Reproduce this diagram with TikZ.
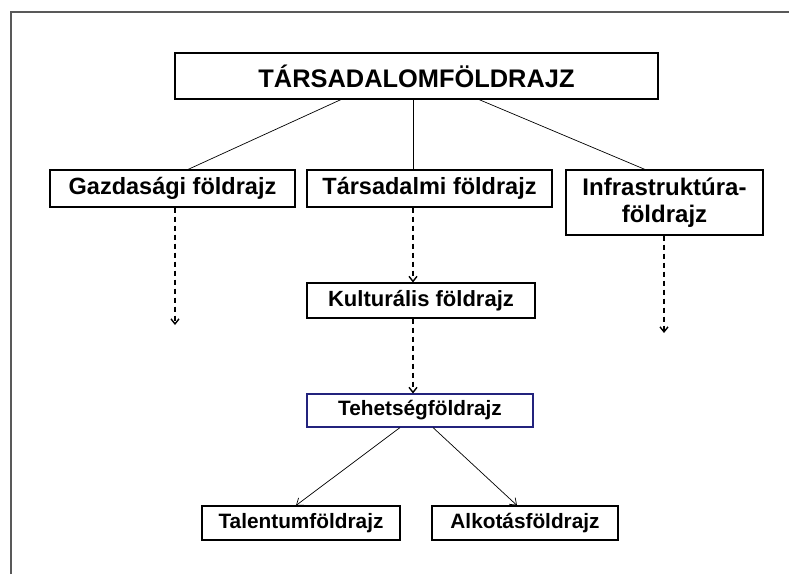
\documentclass[tikz,border=0pt]{standalone}
\usepackage{fontspec}
\setmainfont{Liberation Sans}
\usetikzlibrary{arrows.meta}
\definecolor{tehblue}{RGB}{35,35,125}

\begin{document}
\begin{tikzpicture}[
        x=1pt, y=-1pt,
        every node/.style={draw, rectangle, line width=1.1pt, inner sep=0pt, text centered},
        fs/.style={font=\bfseries\fontsize{#1}{27}\selectfont},
        ln/.style={-, line width=0.7pt},
        dar/.style={-{Straight Barb[length=5pt,width=8pt]}, line width=1.4pt, dash pattern=on 5pt off 4pt},
        sar/.style={-{Straight Barb[length=6pt,width=9pt]}, line width=0.7pt},
    ]

    \useasboundingbox (0,0) rectangle (789,574);
    \draw[gray!70!black, line width=1.4pt] (11,574) -- (11,12) -- (789,12);

    \node[fs=25.4, minimum width=483pt, minimum height=46pt](tf) at (416.5,76) {TÁRSADALOMFÖLDRAJZ};
    \node[fs=23.5, minimum width=245pt, minimum height=37pt](gd) at (172.5,188.5) {Gazdasági földrajz};
    \node[fs=23.5, minimum width=245pt, minimum height=37pt](tars) at (429.5,188.5) {Társadalmi földrajz};
    \node[fs=24, minimum width=197pt, minimum height=65pt, align=center](inf) at (664.5,202.5) {Infrastruktúra-\\földrajz};
    \node[fs=22, minimum width=228pt, minimum height=35pt](kult) at (421,300.5) {Kulturális földrajz};
    \node[fs=20.8, minimum width=226pt, minimum height=33pt, draw=tehblue](teh) at (420,410.5) {Tehetségföldrajz};
    \node[fs=20.8, minimum width=198pt, minimum height=34pt](tal) at (301,523) {Talentumföldrajz};
    \node[fs=20.8, minimum width=186pt, minimum height=34pt](alk) at (525,523) {Alkotásföldrajz};

    \coordinate (gde) at (175,325);
    \coordinate (infe) at (664,333);

    \draw[ln] ([xshift=-75.5pt]tf.south) to ([xshift=15.5pt]gd.north);
    \draw[ln] ([xshift=-3.5pt]tf.south) to ([xshift=-16.5pt]tars.north);
    \draw[ln] ([xshift=62.5pt]tf.south) to ([xshift=-19.5pt]inf.north);
    \draw[dar] (gd.south -| gde) to (gde);
    \draw[dar] (inf.south -| infe) to (infe);
    \draw[dar] ([xshift=-16.5pt]tars.south) to ([xshift=-8pt]kult.north);
    \draw[dar] ([xshift=-8pt]kult.south) to ([xshift=-7pt]teh.north);
    \draw[sar] ([xshift=-20pt]teh.south) to ([xshift=-5pt]tal.north);
    \draw[sar] ([xshift=13pt]teh.south) to ([xshift=-8pt]alk.north);

\end{tikzpicture}
\end{document}
